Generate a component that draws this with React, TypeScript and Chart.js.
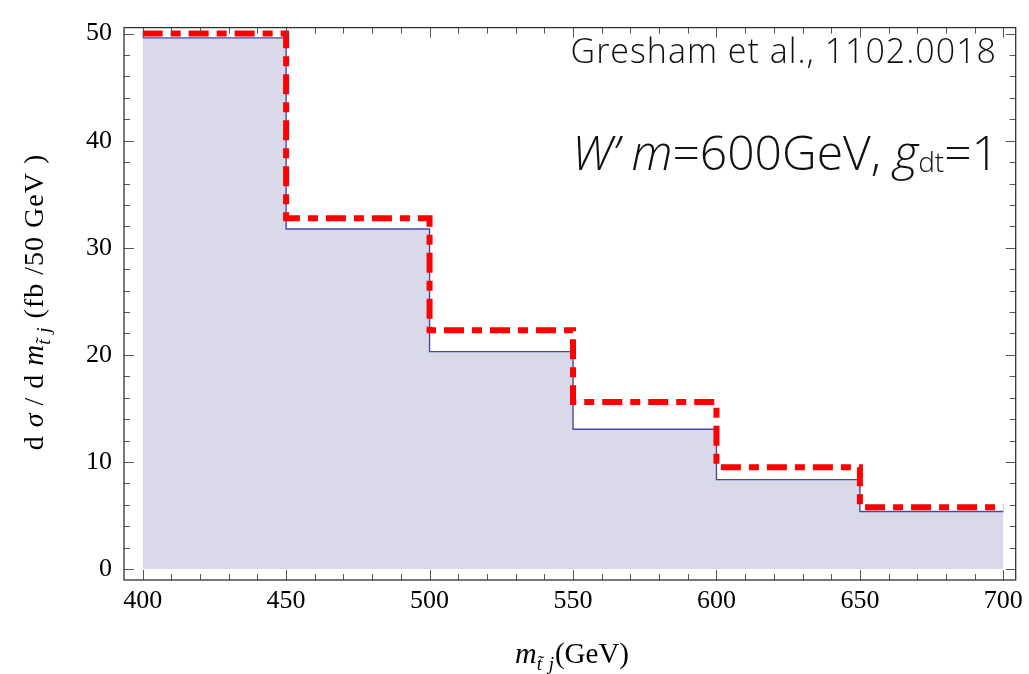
import React, { useEffect, useRef } from "react";
import { Chart, registerables } from "chart.js";

Chart.register(...registerables);

// ---- data ----
const binEdges = [400, 450, 500, 550, 600, 650, 700];
const histValues = [49.6, 31.75, 20.3, 13.05, 8.35, 5.38];
const fitValues = [50.0, 32.75, 22.3, 15.6, 9.5, 5.78];
const xTickValues = [400, 450, 500, 550, 600, 650, 700];
const yTickValues = [0, 10, 20, 30, 40, 50];
const xMinorStep = 10;
const yMinorStep = 2;

const SERIF = '"Liberation Serif", "DejaVu Serif", serif';
const SANS = '"Open Sans", "Liberation Sans", Arial, sans-serif';

type Seg = { t: string; f: string; dy?: number; ls?: string };

function drawSegs(ctx: CanvasRenderingContext2D, segs: Seg[], x: number, y: number, align: "left" | "center" | "right") {
  const c: any = ctx;
  let total = 0;
  for (const s of segs) {
    ctx.font = s.f;
    c.letterSpacing = s.ls || "0px";
    total += ctx.measureText(s.t).width;
  }
  let cx = align === "left" ? x : align === "center" ? x - total / 2 : x - total;
  ctx.textAlign = "left";
  ctx.textBaseline = "alphabetic";
  for (const s of segs) {
    ctx.font = s.f;
    c.letterSpacing = s.ls || "0px";
    ctx.fillText(s.t, cx, y + (s.dy || 0));
    cx += ctx.measureText(s.t).width;
  }
  c.letterSpacing = "0px";
}

const stepPoints = (vals: number[]) =>
  binEdges.map((x, i) => ({ x, y: vals[Math.min(i, vals.length - 1)] }));

const framePlugin = {
  id: "framePlugin",
  afterDatasetsDraw(chart: any) {
    const ctx: CanvasRenderingContext2D = chart.ctx;
    const { left, right, top, bottom } = chart.chartArea;
    const xs = chart.scales.x;
    const ys = chart.scales.y;
    ctx.save();
    const major = 10, minor = 6;
    ctx.lineWidth = 1;
    ctx.strokeStyle = "#555";
    const x0 = xTickValues[0], x1 = xTickValues[xTickValues.length - 1];
    for (let v = x0; v <= x1 + 1e-6; v += xMinorStep) {
      const isMajor = xTickValues.includes(v);
      const len = isMajor ? major : minor;
      const px = Math.round(xs.getPixelForValue(v)) + 0.5;
      ctx.beginPath();
      ctx.moveTo(px, bottom);
      ctx.lineTo(px, bottom - len);
      ctx.moveTo(px, top);
      ctx.lineTo(px, top + len);
      ctx.stroke();
    }
    const y0 = yTickValues[0], y1 = yTickValues[yTickValues.length - 1];
    for (let v = y0; v <= y1 + 1e-6; v += yMinorStep) {
      const isMajor = yTickValues.includes(v);
      const len = isMajor ? major : minor;
      const py = Math.round(ys.getPixelForValue(v)) + 0.5;
      ctx.beginPath();
      ctx.moveTo(left, py);
      ctx.lineTo(left + len, py);
      ctx.moveTo(right, py);
      ctx.lineTo(right - len, py);
      ctx.stroke();
    }
    ctx.strokeStyle = "#333";
    ctx.lineWidth = 1.3;
    ctx.strokeRect(left, top, right - left, bottom - top);
    ctx.restore();
  },
  afterDraw(chart: any) {
    const ctx: CanvasRenderingContext2D = chart.ctx;
    ctx.save();
    ctx.fillStyle = "#000";
    // x title
    drawSegs(
      ctx,
      [
        { t: "m", f: `italic 30px ${SERIF}` },
        { t: "t\u0303 j", f: `italic 19px ${SERIF}`, dy: 7, ls: "1px" },
        { t: "(GeV)", f: `29px ${SERIF}` },
      ],
      572,
      663,
      "center"
    );
    // y title (rotated)
    ctx.save();
    ctx.translate(43, 302);
    ctx.rotate(-Math.PI / 2);
    drawSegs(
      ctx,
      [
        { t: "d ", f: `28px ${SERIF}`, ls: "1px" },
        { t: "\u03c3", f: `italic 28px ${SERIF}` },
        { t: " / d ", f: `28px ${SERIF}`, ls: "1px" },
        { t: "m", f: `italic 29px ${SERIF}` },
        { t: "t\u0303 j", f: `italic 19px ${SERIF}`, dy: 7, ls: "1px" },
        { t: " (fb /50 GeV )", f: `28px ${SERIF}`, ls: "1px" },
      ],
      0,
      0,
      "center"
    );
    ctx.restore();
    // annotations
    ctx.fillStyle = "#111";
    drawSegs(ctx, [{ t: "Gresham et al., 1102.0018", f: `300 34px ${SANS}`, ls: "1px" }], 997, 63, "right");
    drawSegs(
      ctx,
      [
        { t: "W\u2019", f: `italic 300 48px ${SANS}` },
        { t: " ", f: `300 48px ${SANS}` },
        { t: "m", f: `italic 300 48px ${SANS}` },
        { t: "=600GeV, ", f: `300 48px ${SANS}` },
        { t: "g", f: `italic 300 48px ${SANS}` },
        { t: "dt", f: `300 28px ${SANS}`, dy: 2 },
        { t: "=1", f: `300 48px ${SANS}` },
      ],
      999,
      170,
      "right"
    );
    ctx.restore();
  },
};

export default function App() {
  const canvasRef = useRef<HTMLCanvasElement | null>(null);

  useEffect(() => {
    if (!canvasRef.current) return;
    const chart = new Chart(canvasRef.current, {
      type: "line",
      data: {
        datasets: [
          {
            label: "fit",
            data: stepPoints(fitValues),
            stepped: "before",
            borderColor: "#ff0000",
            borderWidth: 6,
            borderDash: [20, 8, 10, 8],
            borderCapStyle: "butt",
            pointRadius: 0,
            fill: false,
            clip: false as any,
          },
          {
            label: "hist",
            data: stepPoints(histValues),
            stepped: "before",
            borderColor: "#4848a8",
            borderWidth: 1.4,
            backgroundColor: "rgb(217,217,234)",
            pointRadius: 0,
            fill: "origin",
          },
        ],
      },
      options: {
        animation: false,
        responsive: true,
        maintainAspectRatio: false,
        layout: { padding: { top: 24, right: 10, left: 0, bottom: 0 } },
        plugins: { legend: { display: false }, tooltip: { enabled: false } },
        scales: {
          x: {
            type: "linear",
            min: 393.5,
            max: 704.3,
            grid: { display: false, drawTicks: false },
            border: { display: false },
            afterBuildTicks: (s: any) => {
              s.ticks = xTickValues.map((v) => ({ value: v }));
            },
            afterFit: (s: any) => {
              s.height = 94;
            },
            ticks: {
              color: "#000",
              font: { family: SERIF, size: 26 },
              padding: 6,
              maxRotation: 0,
              autoSkip: false,
              callback: (v: any) => String(v),
            },
          },
          y: {
            type: "linear",
            min: -1.02,
            max: 50.56,
            grid: { display: false, drawTicks: false },
            border: { display: false },
            afterBuildTicks: (s: any) => {
              s.ticks = yTickValues.map((v) => ({ value: v }));
            },
            afterFit: (s: any) => {
              s.width = 124;
            },
            ticks: {
              color: "#000",
              font: { family: SERIF, size: 26 },
              padding: 12,
              autoSkip: false,
              callback: (v: any) => String(v),
            },
          },
        },
      },
      plugins: [framePlugin],
    });
    return () => chart.destroy();
  }, []);

  return (
    <div style={{ position: "absolute", left: 0, top: 0, width: 1029, height: 674, background: "#fff" }}>
      <canvas ref={canvasRef} />
    </div>
  );
}
